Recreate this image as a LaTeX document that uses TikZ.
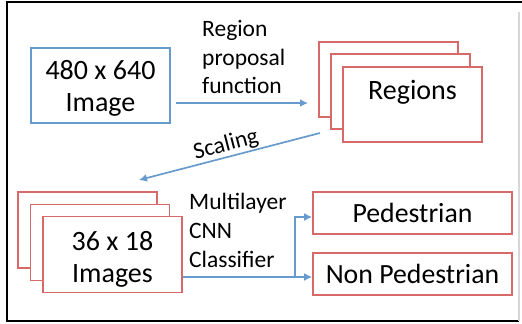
\documentclass[tikz,border=0pt]{standalone}
\usepackage{fontspec}
\setmainfont{Carlito}
\usetikzlibrary{arrows.meta}
\definecolor{bblue}{RGB}{104,155,205}
\definecolor{rred}{RGB}{215,105,105}
\definecolor{fgray}{RGB}{215,215,215}
\tikzset{
  bbox/.style={draw=bblue, line width=1.6bp, minimum width=139bp, minimum height=75bp, inner sep=0pt, align=center, font=\fontsize{28bp}{32bp}\selectfont, fill=white},
  rbox/.style={draw=rred, line width=1.6bp, minimum width=139bp, minimum height=75bp, inner sep=0pt, align=center, font=\fontsize{28bp}{32bp}\selectfont, fill=white},
  obox/.style={draw=rred, line width=1.6bp, minimum width=199bp, minimum height=42bp, inner sep=0pt, font=\fontsize{27.8bp}{32bp}\selectfont, fill=white},
  lbl/.style={inner sep=0pt, align=left, font=\fontsize{23.5bp}{28.8bp}\selectfont},
  conn/.style={draw=bblue, line width=1.7bp, -{Latex[length=8bp,width=8bp]}}
}
\begin{document}
\begin{tikzpicture}[x=1bp,y=-1bp]
\useasboundingbox (0,0) rectangle (522,323);
% frame
\draw[black, line width=1.3bp] (522,2) -- (7,2) -- (7,321) -- (519,321);
\draw[fgray, line width=1.2bp] (519,12) -- (519,321);

% top row
\node[bbox] (img) at (100.5,85.5) {\rule{0pt}{24bp}480 x 640\\Image};
\node[rbox] (reg3) at (388.5,79.5) {};
\node[rbox] (reg2) at (400.5,91.5) {};
\node[rbox] (reg1) at (412.5,104.5) {\rule[-30bp]{0pt}{30bp}Regions};

\coordinate (a1s) at (176,103);
\coordinate (a1e) at (308,103);
\draw[conn] (a1s) -- (a1e);
\node[lbl, anchor=north west] (rpf) at (202,20) {Region\\proposal\\function};

% scaling
\coordinate (sc1) at (320,133);
\coordinate (sc2) at (139,180);
\draw[conn] (sc1) -- (sc2);
\node[inner sep=0pt, font=\fontsize{23.5bp}{28bp}\selectfont, rotate=14.6] (scl) at (226,145) {Scaling};

% bottom row
\node[rbox, minimum height=76bp] (im3) at (87.5,230) {};
\node[rbox, minimum height=76bp] (im2) at (100,242.5) {};
\node[rbox, minimum height=76bp] (im1) at (112.5,254.5) {\rule{0pt}{28bp}36 x 18\\Images};

\node[lbl, anchor=north west] (cnn) at (189,193) {Multilayer\\CNN\\Classifier};

\node[obox] (ped) at (412.5,213) {Pedestrian};
\node[obox] (nped) at (412.5,274) {Non Pedestrian};

\coordinate (br) at (295,277);
\draw[conn] (im1.east |- br) -- (nped.west |- br);
\draw[conn] (br) -- (295,217) -- (ped.west |- 0,217);
\end{tikzpicture}
\end{document}
